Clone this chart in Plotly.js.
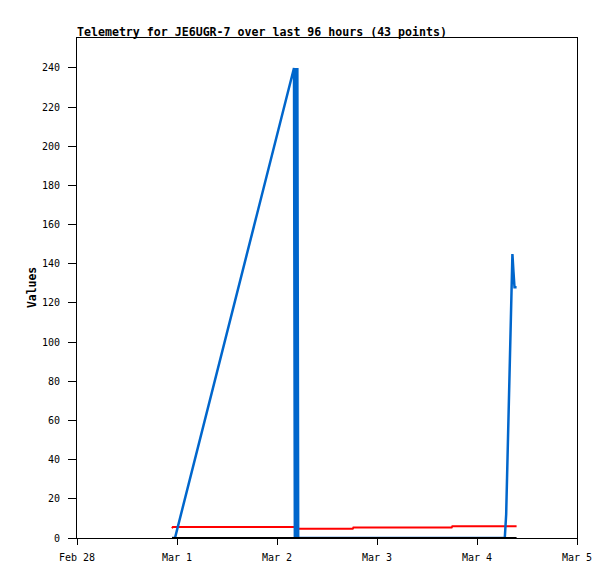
<!DOCTYPE html>
<html>
<head>
<meta charset="utf-8">
<script src="https://cdn.plot.ly/plotly-3.0.1.min.js"></script>
<style>html,body{margin:0;padding:0;background:#fff;}#chart{width:615px;height:579px;}</style>
</head>
<body>
<div id="chart"></div>
<script>
// Timestamps of the 43 telemetry points
var times = [
  "2025-02-28 22:48", "2025-02-28 23:00", "2025-02-28 23:31",
  "2025-03-02 04:05", "2025-03-02 04:09", "2025-03-02 04:13", "2025-03-02 04:17",
  "2025-03-02 04:21", "2025-03-02 04:25", "2025-03-02 04:29", "2025-03-02 04:33",
  "2025-03-02 04:37", "2025-03-02 04:41", "2025-03-02 04:45", "2025-03-02 04:49",
  "2025-03-02 04:53", "2025-03-02 04:56", "2025-03-02 04:59", "2025-03-02 05:02",
  "2025-03-02 05:05", "2025-03-02 09:00", "2025-03-02 13:00", "2025-03-02 18:10",
  "2025-03-02 18:20", "2025-03-02 23:00", "2025-03-03 04:00", "2025-03-03 09:00",
  "2025-03-03 13:30", "2025-03-03 17:55", "2025-03-03 18:05", "2025-03-03 22:00",
  "2025-03-04 02:00", "2025-03-04 06:40", "2025-03-04 07:00", "2025-03-04 07:20",
  "2025-03-04 07:45", "2025-03-04 08:10", "2025-03-04 08:30", "2025-03-04 08:45",
  "2025-03-04 09:00", "2025-03-04 09:15", "2025-03-04 09:25", "2025-03-04 09:30"
];
// Series values
var blueValues = [
  0, 0, 0,
  240, 0, 240, 0,
  240, 0, 240, 0,
  240, 0, 240, 0,
  240, 0, 240, 0,
  0, 0, 0, 0,
  0, 0, 0, 0,
  0, 0, 0, 0,
  0, 0, 12, 45,
  85, 120, 145, 136,
  128, 128, 128, 128
];
var redValues = [
  5.0, 5.6, 5.6,
  5.6, 5.6, 5.6, 5.6,
  5.6, 5.6, 5.6, 5.6,
  5.6, 5.6, 5.6, 5.6,
  5.6, 5.6, 5.6, 5.6,
  4.7, 4.7, 4.7, 4.7,
  5.3, 5.3, 5.3, 5.3,
  5.3, 5.3, 6.0, 6.0,
  6.0, 6.0, 6.0, 6.0,
  6.0, 6.0, 6.0, 6.0,
  6.0, 6.0, 6.0, 6.0
];
var blackValues = times.map(function(){ return 0; });
var xTickVals = ["2025-02-28", "2025-03-01", "2025-03-02", "2025-03-03", "2025-03-04", "2025-03-05"];
var xTickText = ["Feb 28", "Mar 1", "Mar 2", "Mar 3", "Mar 4", "Mar 5"];
var yTickVals = [0, 20, 40, 60, 80, 100, 120, 140, 160, 180, 200, 220, 240];

var mono = "DejaVu Sans Mono, Liberation Mono, monospace";
var traces = [
  {x: times, y: redValues, type: "scatter", mode: "lines", line: {color: "#ff0000", width: 2}, hoverinfo: "none"},
  {x: times, y: blueValues, type: "scatter", mode: "lines", line: {color: "#0066cc", width: 2.5}, hoverinfo: "none"},
  {x: times, y: blackValues, type: "scatter", mode: "lines", line: {color: "#000000", width: 2}, hoverinfo: "none"}
];
var layout = {
  width: 615, height: 579,
  margin: {l: 77, r: 38, t: 38, b: 41},
  paper_bgcolor: "#ffffff", plot_bgcolor: "#ffffff",
  showlegend: false,
  title: {
    text: "<b>Telemetry for JE6UGR-7 over last 96 hours (43 points)</b>",
    font: {family: mono, size: 11.6, color: "#000"},
    x: 77/615, xref: "container", xanchor: "left",
    y: 1 - 36/579, yref: "container", yanchor: "bottom"
  },
  xaxis: {
    type: "date",
    range: ["2025-02-28", "2025-03-05"],
    tickvals: xTickVals, ticktext: xTickText,
    ticks: "outside", ticklen: 6, tickwidth: 1, tickcolor: "#000",
    ticklabelstandoff: 4,
    showline: true, linecolor: "#000", linewidth: 1, mirror: true,
    showgrid: false, zeroline: false,
    tickfont: {family: mono, size: 10, color: "#000"}
  },
  yaxis: {
    range: [0, 255.3],
    tickvals: yTickVals,
    ticks: "outside", ticklen: 8, tickwidth: 1, tickcolor: "#000",
    ticklabelstandoff: 6,
    showline: true, linecolor: "#000", linewidth: 1, mirror: true,
    showgrid: false, zeroline: false,
    tickfont: {family: mono, size: 10, color: "#000"}
  },
  annotations: [{
    text: "<b>Values</b>", textangle: -90,
    xref: "paper", yref: "paper", x: (32 - 77) / 500, y: 0.5,
    xanchor: "center", yanchor: "middle", showarrow: false,
    font: {family: mono, size: 11.4, color: "#000"}
  }]
};
Plotly.newPlot("chart", traces, layout, {staticPlot: true, displayModeBar: false});
</script>
</body>
</html>
